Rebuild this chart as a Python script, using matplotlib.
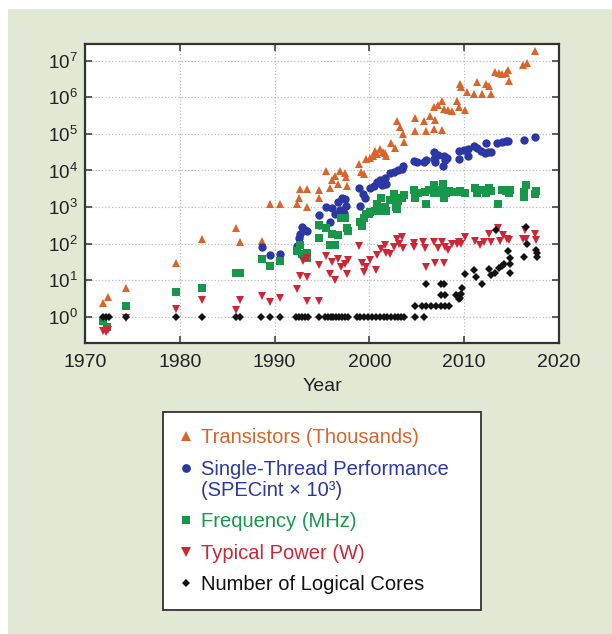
import numpy as np
import matplotlib.pyplot as plt
from matplotlib.patches import Rectangle
from matplotlib.legend_handler import HandlerLine2D

plt.rcParams["font.family"] = ["Liberation Sans", "DejaVu Sans"]
plt.rcParams["mathtext.fontset"] = "custom"
plt.rcParams["mathtext.rm"] = "Liberation Sans"

# (year, value)
trans_year = [1971.9, 1972.4, 1974.3, 1979.6, 1982.3, 1985.9, 1986.3, 1988.7, 1989.5, 1990.6,
              1992.4, 1992.6, 1992.7, 1993.4, 1993.4, 1994.7, 1994.7, 1995.4, 1995.8, 1996.1,
              1996.4, 1996.7, 1996.9, 1997.4, 1997.5, 1997.6, 1998.9, 1999.1, 1999.4, 1999.6,
              2000.1, 2000.4, 2000.6, 2000.8, 2001.1, 2001.4, 2001.6, 2001.8, 2002.3, 2002.7,
              2002.9, 2003.2, 2003.5, 2003.6, 2004.8, 2004.8, 2005.8, 2006.0, 2006.4, 2006.8,
              2006.9, 2006.8, 2007.2, 2007.7, 2007.7, 2007.9, 2008.3, 2008.7, 2009.2, 2009.5,
              2010.1, 2009.6, 2009.7, 2010.3, 2011.3, 2011.0, 2011.9, 2012.3, 2012.6, 2012.8,
              2013.3, 2013.7, 2014.0, 2014.4, 2014.6, 2014.7, 2016.2, 2016.6, 2017.5]
trans_val = [2.3, 3.5, 6.0, 29, 134, 275, 110, 120, 1200, 1200,
             1200, 1800, 3100, 3100, 1000, 2900, 1800, 9500, 3400, 5500,
             6900, 4200, 9500, 8400, 6500, 3800, 15500, 9100, 8000, 21000,
             22000, 25000, 35000, 28000, 39000, 32000, 30000, 25000, 55000, 42000,
             230000, 150000, 100000, 59000, 280000, 117000, 220000, 117000, 300000, 540000,
             245000, 138000, 600000, 780000, 126000, 470000, 445000, 420000, 780000, 560000,
             440000, 2.3e6, 1.9e6, 1.4e6, 2.7e6, 1.23e6, 1.23e6, 2.3e6, 2.0e6, 1.23e6,
             4.9e6, 4.5e6, 4.3e6, 4.6e6, 5.6e6, 2.8e6, 7.8e6, 8.7e6, 1.9e7]

perf_year = [1988.7, 1989.5, 1990.6, 1992.4, 1992.6, 1992.7, 1992.9, 1993.2, 1993.4, 1994.7,
             1994.7, 1995.4, 1995.8, 1996.1, 1996.4, 1996.7, 1996.9, 1997.1, 1997.4, 1997.5,
             1997.0, 1997.3, 1998.9, 1999.0, 1999.3, 1999.5, 2000.1, 2000.5, 2000.8, 2001.1,
             2001.3, 2001.6, 2001.8, 2002.2, 2002.6, 2003.0, 2003.4, 2003.5, 2004.7, 2005.0,
             2005.8, 2006.0, 2006.8, 2006.8, 2006.9, 2007.2, 2007.8, 2007.9, 2008.0, 2008.2,
             2009.4, 2009.5, 2010.0, 2010.4, 2010.4, 2011.0, 2011.3, 2011.8, 2012.2, 2012.5,
             2012.8, 2012.3, 2013.5, 2014.0, 2014.4, 2014.6, 2016.3, 2017.5]
perf_val = [82, 49, 52, 87, 140, 185, 280, 240, 220, 600,
            320, 1000, 400, 930, 630, 1350, 810, 1750, 1650, 1050,
            600, 700, 3400, 1100, 2240, 1750, 3300, 3700, 4800, 5500,
            4000, 6300, 4300, 8500, 9100, 10000, 11000, 13000, 18000, 17000,
            17300, 19500, 32000, 21000, 17000, 27000, 13000, 25000, 19000, 22000,
            21000, 35000, 37000, 39000, 25000, 46000, 42000, 35000, 30000, 32000,
            32000, 58000, 58000, 62000, 65000, 66000, 70000, 80000]

freq_year = [1971.9, 1972.3, 1974.3, 1979.6, 1982.3, 1985.9, 1986.3, 1988.7, 1989.5, 1990.6,
             1992.4, 1992.7, 1992.9, 1993.4, 1993.4, 1994.7, 1994.7, 1995.4, 1995.8, 1996.1,
             1996.4, 1996.7, 1997.0, 1997.4, 1997.6, 1997.7, 1999.0, 1999.2, 1999.4, 1999.6,
             2000.0, 2000.1, 2000.6, 2000.8, 2001.2, 2001.4, 2001.6, 2001.8, 2002.2, 2002.6,
             2002.8, 2003.0, 2003.4, 2003.6, 2002.9, 2004.7, 2004.8, 2005.1, 2005.9, 2006.0,
             2006.3, 2006.8, 2006.8, 2007.2, 2007.5, 2007.8, 2007.9, 2008.0, 2008.1, 2008.4,
             2008.8, 2009.2, 2009.6, 2010.1, 2011.1, 2011.3, 2011.9, 2012.3, 2012.6, 2012.8,
             2013.6, 2014.0, 2014.4, 2014.8, 2014.7, 2016.5, 2016.3, 2016.3, 2017.5, 2017.6]
freq_val = [0.74, 0.53, 2.0, 4.7, 6.0, 16, 16, 38, 25, 33,
            63, 93, 52, 56, 40, 145, 315, 275, 89, 178,
            89, 170, 490, 490, 260, 220, 400, 300, 500, 630,
            630, 750, 800, 1200, 1800, 800, 1000, 800, 1550, 2240,
            1000, 1500, 1800, 2200, 900, 2900, 1800, 2400, 2500, 1200,
            3000, 4000, 2400, 2400, 3000, 4200, 1750, 2800, 2400, 2800,
            2600, 2500, 2700, 2400, 3300, 2400, 3000, 2400, 3400, 2800,
            1200, 3000, 2800, 3000, 2400, 4000, 2500, 1900, 2240, 2800]

power_year = [1971.9, 1972.2, 1972.4, 1974.3, 1979.6, 1982.3, 1985.9, 1986.3, 1988.7, 1989.5,
              1990.6, 1992.4, 1992.7, 1993.4, 1993.4, 1994.7, 1993.0, 1993.4, 1994.7, 1995.4,
              1995.8, 1996.1, 1996.4, 1996.7, 1997.0, 1997.4, 1997.6, 1997.7, 1998.9, 1999.2,
              1999.4, 1999.6, 2000.1, 2000.7, 2000.8, 2001.2, 2001.6, 2001.8, 2002.2, 2002.6,
              2002.9, 2003.1, 2003.4, 2003.5, 2004.7, 2004.7, 2005.7, 2005.9, 2006.0, 2006.8,
              2006.9, 2007.2, 2007.7, 2007.9, 2008.0, 2008.3, 2008.7, 2009.2, 2009.5, 2009.7,
              2010.1, 2011.1, 2011.7, 2012.1, 2012.6, 2012.8, 2013.6, 2013.8, 2014.1, 2014.5,
              2014.7, 2016.2, 2016.4, 2016.5, 2017.5, 2017.6]
power_val = [0.41, 0.39, 0.44, 0.9, 1.6, 2.8, 1.5, 2.8, 3.6, 2.6,
             3.2, 5.7, 13, 12.5, 2.7, 2.7, 34, 41, 26, 47,
             15, 31, 10, 38, 23, 28, 15, 35, 87, 29,
             17, 23, 35, 19, 49, 72, 93, 56, 52, 81,
             135, 100, 155, 78, 105, 80, 110, 78, 23, 110,
             30, 75, 110, 30, 80, 67, 100, 95, 110, 100,
             155, 120, 93, 110, 178, 110, 260, 120, 170, 130,
             125, 135, 230, 130, 178, 125]

cores_year = [1971.9, 1972.2, 1972.5, 1974.3, 1979.6, 1982.3, 1985.9, 1986.3, 1988.6, 1989.5,
              1990.6, 1992.3, 1992.6, 1992.9, 1993.2, 1993.5, 1994.7, 1995.3, 1995.6, 1995.9,
              1996.2, 1996.5, 1996.8, 1997.1, 1997.4, 1997.7, 1998.7, 1999.0, 1999.4, 1999.8,
              2000.3, 2000.7, 2001.1, 2001.5, 2001.9, 2002.3, 2002.7, 2003.0, 2003.3, 2003.7,
              2004.8, 2005.8, 2004.8, 2005.6, 2006.0, 2006.5, 2007.0, 2007.5, 2008.0, 2008.4,
              2006.0, 2007.6, 2007.9, 2007.5, 2008.0, 2009.1, 2009.3, 2009.5, 2009.6, 2009.7,
              2009.8, 2010.1, 2011.0, 2011.2, 2011.9, 2012.6, 2012.8, 2013.3, 2013.4, 2013.7,
              2014.0, 2014.15, 2014.6, 2014.8, 2014.8, 2014.8, 2016.3, 2016.6, 2016.5, 2017.6,
              2017.7, 2017.7]
cores_val = [1, 1, 1, 1, 1, 1, 1, 1, 1, 1,
             1, 1, 1, 1, 1, 1, 1, 1, 1, 1,
             1, 1, 1, 1, 1, 1, 1, 1, 1, 1,
             1, 1, 1, 1, 1, 1, 1, 1, 1, 1,
             1, 1, 2, 2, 2, 2, 2, 2, 2, 2,
             8, 8, 8, 4, 4, 4, 3.6, 3, 3.3, 4.3,
             6, 15, 19, 12, 7.6, 20, 14, 16, 235, 22,
             24, 28, 63, 40, 28, 16, 44, 98, 290, 66,
             54, 44]

labels = ["Transistors (Thousands)", "Single-Thread Performance\n(SPECint \u00d7 10\u00b3)",
          "Frequency (MHz)", "Typical Power (W)", "Number of Logical Cores"]
colors = ["#d9652b", "#2b37a3", "#16974a", "#cf2636", "#111111"]
markers = ["^", "o", "s", "v", "D"]
sizes = [6.3, 6.0, 5.6, 6.3, 3.8]
series = [(trans_year, trans_val), (perf_year, perf_val), (freq_year, freq_val),
          (power_year, power_val), (cores_year, cores_val)]


class RaisedHandler(HandlerLine2D):
    # puts the marker next to the first line of a two-line label
    def __init__(self, shift, **kw):
        super().__init__(**kw)
        self.shift = shift

    def create_artists(self, legend, orig_handle, xdescent, ydescent, width, height,
                       fontsize, trans):
        arts = super().create_artists(legend, orig_handle, xdescent, ydescent, width,
                                      height, fontsize, trans)
        for a in arts:
            a.set_ydata(np.asarray(a.get_ydata()) + self.shift)
        return arts


fig = plt.figure(figsize=(6.12, 6.34), dpi=100, facecolor="white")
fig.patches.append(Rectangle((8 / 612, 0), 1, 1 - 9 / 634, transform=fig.transFigure,
                             facecolor="#e1e8d4", edgecolor="none", zorder=-10))

ax = fig.add_axes([85 / 612, 1 - 343 / 634, 474 / 612, 299 / 634])
handles = []
for (xs, ys), lab, c, m, ms in zip(series, labels, colors, markers, sizes):
    h, = ax.plot(xs, ys, linestyle="none", marker=m, markersize=ms, color=c,
                 markeredgewidth=0, label=lab)
    handles.append(h)

ax.set_yscale("log")
ax.set_xlim(1970, 2020)
ax.set_ylim(10 ** -0.72, 10 ** 7.46)
ax.set_xticks([1970, 1980, 1990, 2000, 2010, 2020])
ax.set_yticks([10 ** k for k in range(8)])
ax.yaxis.set_minor_locator(plt.NullLocator())
ax.grid(True, which="major", linestyle=":", color="#bbbbbb", linewidth=0.9)
ax.tick_params(direction="in", top=True, right=True, length=5, width=1.2,
               color="#444444", labelcolor="#222222")
ax.tick_params(axis="x", labelsize=14, pad=8)
ax.tick_params(axis="y", labelsize=13.5, pad=5)
for s in ax.spines.values():
    s.set_color("#333333")
    s.set_linewidth(1.6)
ax.set_xlabel("Year", fontsize=14, color="#222222", labelpad=5)

leg = fig.legend(handles=handles, loc="upper left",
                 bbox_to_anchor=(163 / 612, 1 - 412 / 634, 318 / 612, 0), mode="expand",
                 frameon=True, fancybox=False, edgecolor="#333333", facecolor="white",
                 framealpha=1, fontsize=14.5, handlelength=0.65, handletextpad=0.45,
                 labelspacing=0.62, borderpad=0.8, borderaxespad=0, markerscale=1.05,
                 handler_map={handles[1]: RaisedHandler(9)})
leg.get_frame().set_linewidth(1.3)
for t, c in zip(leg.get_texts(), colors):
    t.set_color(c)
leg.get_texts()[1].set_linespacing(1.15)

fig.savefig("out.png", dpi=100, facecolor=fig.get_facecolor())
